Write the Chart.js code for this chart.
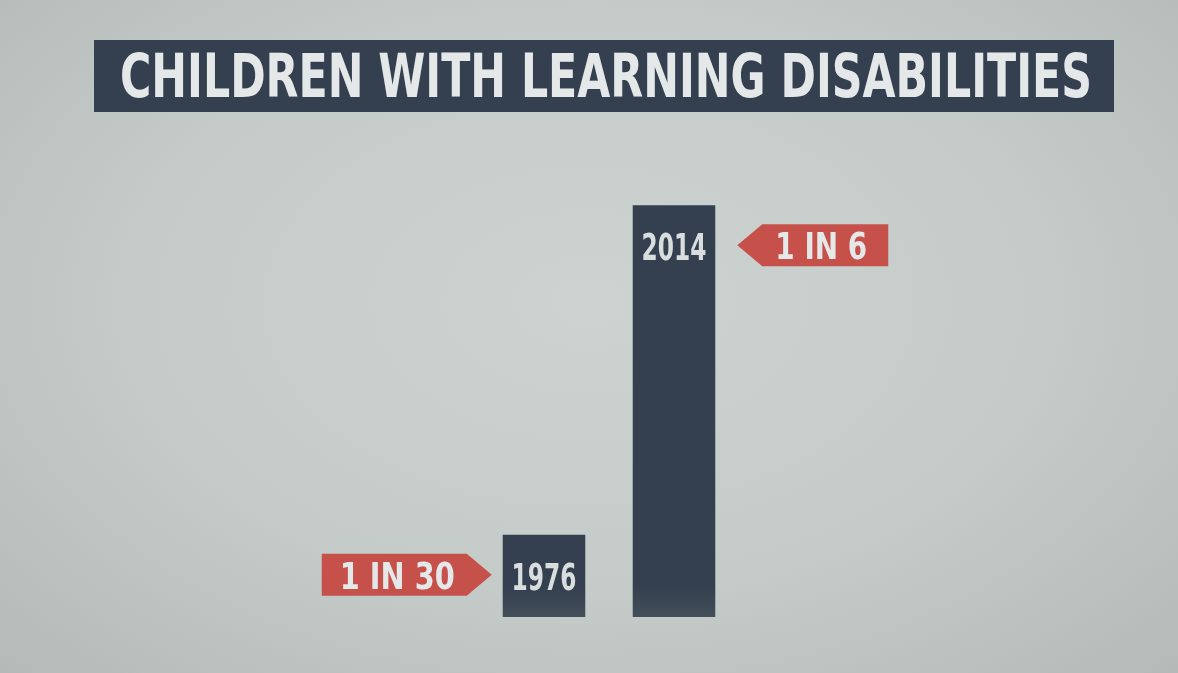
<!DOCTYPE html>
<html>
<head>
<meta charset="utf-8">
<script src="https://cdn.jsdelivr.net/npm/chart.js@4"></script>
<style>
  html, body { margin: 0; padding: 0; }
  body {
    width: 1178px; height: 673px; overflow: hidden;
    background: radial-gradient(ellipse at 50% 45%, #cdd3d0 0%, #c5cbc8 55%, #b4bab8 100%);
  }
  #wrap { position: relative; width: 1178px; height: 673px; }
</style>
</head>
<body>
<div id="wrap"><canvas id="chart" width="1178" height="673"></canvas></div>
<script>
    var title = 'CHILDREN WITH LEARNING DISABILITIES';
    var years = ['1976', '2014'];
    var rates = [1 / 30, 1 / 6];
    var tagLabels = ['1 IN 30', '1 IN 6'];

    var navy = '#34404f';
    var red = '#c6504a';
    var light = '#e4e8e8';
    var font = '"DejaVu Sans", sans-serif';

    // draw text squeezed horizontally to a given width
    function fitText(ctx, text, x, y, size, width, align) {
        ctx.save();
        ctx.font = 'bold ' + size + 'px ' + font;
        var w = ctx.measureText(text).width;
        var s = width / w;
        var left = align === 'center' ? x - width / 2 : x;
        ctx.translate(left, y);
        ctx.scale(s, 1);
        ctx.textAlign = 'left';
        ctx.textBaseline = 'alphabetic';
        ctx.fillText(text, 0, 0);
        ctx.restore();
    }

    var decor = {
        id: 'decor',
        beforeDraw: function(chart) {
            var ctx = chart.ctx;
            // title banner
            ctx.save();
            ctx.fillStyle = navy;
            ctx.fillRect(94, 40, 1020, 72);
            ctx.fillStyle = light;
            fitText(ctx, title, 120, 97, 60, 972, 'left');
            ctx.restore();
        },
        afterDatasetsDraw: function(chart) {
            var ctx = chart.ctx;
            var bars = chart.getDatasetMeta(0).data;
            ctx.save();
            bars.forEach(function(bar, i) {
                var top = bar.y;
                // year label inside the bar
                ctx.fillStyle = '#d9dddd';
                fitText(ctx, years[i], bar.x, top + 55, 38, 65, 'center');

                // red arrow tag
                var h = 42, cy = top + 40;
                ctx.fillStyle = red;
                ctx.beginPath();
                if (i === 0) {
                    var r = bar.x - bar.width / 2 - 36;
                    ctx.moveTo(r - 145, cy - h / 2);
                    ctx.lineTo(r, cy - h / 2);
                    ctx.lineTo(r + 25, cy);
                    ctx.lineTo(r, cy + h / 2);
                    ctx.lineTo(r - 145, cy + h / 2);
                    ctx.closePath();
                    ctx.fill();
                    ctx.fillStyle = light;
                    fitText(ctx, tagLabels[i], r - 127, cy + 14, 38, 115, 'left');
                } else {
                    var l = bar.x + bar.width / 2 + 22;
                    ctx.moveTo(l + 25, cy - h / 2);
                    ctx.lineTo(l + 151, cy - h / 2);
                    ctx.lineTo(l + 151, cy + h / 2);
                    ctx.lineTo(l + 25, cy + h / 2);
                    ctx.lineTo(l, cy);
                    ctx.closePath();
                    ctx.fill();
                    ctx.fillStyle = light;
                    fitText(ctx, tagLabels[i], l + 38, cy + 14, 38, 92, 'left');
                }
            });
            ctx.restore();
        }
    };

    var chartEl = document.getElementById('chart');
    var myChart = new Chart(chartEl, {
        type: 'bar',
        data: {
            labels: years,
            datasets: [{
                label: 'Children with learning disabilities',
                data: rates,
                backgroundColor: function(c) {
                    var area = c.chart.chartArea;
                    if (!area) return navy;
                    var g = c.chart.ctx.createLinearGradient(0, area.bottom - 30, 0, area.bottom);
                    g.addColorStop(0, navy);
                    g.addColorStop(1, '#434e5a');
                    return g;
                },
                borderWidth: 0,
                categoryPercentage: 1,
                barPercentage: 0.635
            }]
        },
        options: {
            responsive: false,
            animation: false,
            layout: { padding: { left: 479, right: 439, top: 123, bottom: 56 } },
            scales: {
                x: { display: false },
                y: { display: false, min: 0, max: 0.2 }
            },
            plugins: {
                legend: { display: false },
                tooltip: { enabled: false }
            }
        },
        plugins: [decor]
    });
</script>
</body>
</html>
